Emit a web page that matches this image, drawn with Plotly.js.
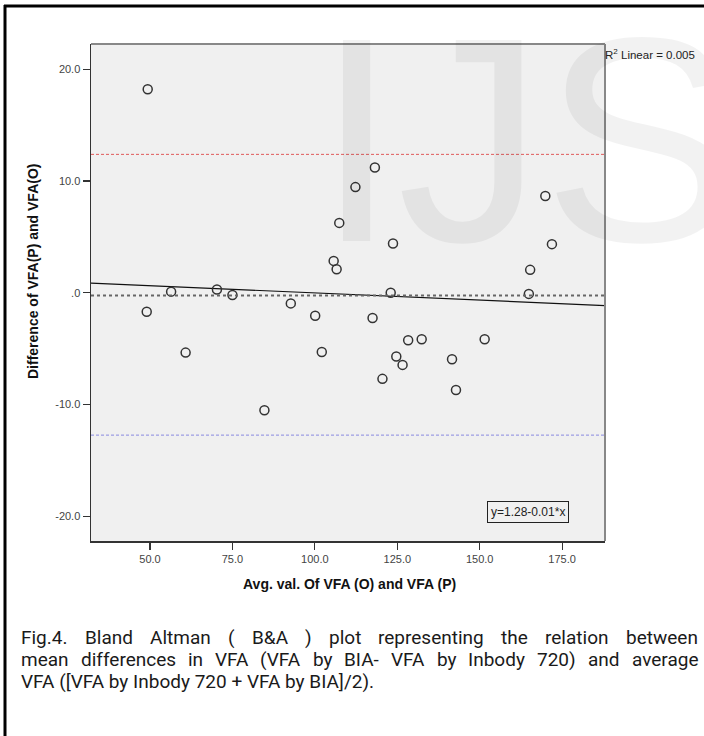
<!DOCTYPE html>
<html>
<head>
<meta charset="utf-8">
<script src="https://cdn.plot.ly/plotly-3.0.1.min.js"></script>
<style>
  html, body { margin:0; padding:0; background:#ffffff; }
  #chart { width:704px; height:736px; }
</style>
</head>
<body>
<div id="chart"></div>
<script>
// ---------------- data ----------------
const avgVFA = [49.3, 49.0, 56.4, 70.3, 75.0, 92.7, 100.1, 118.2, 112.3, 107.4,
                123.7, 105.7, 106.6, 123.0, 117.5, 169.9, 171.9, 165.3, 164.9, 102.1,
                128.3, 132.4, 151.5, 124.7, 126.6, 120.5, 141.6, 142.8, 60.8, 84.7];
const diffVFA = [18.2, -1.7, 0.1, 0.3, -0.2, -0.95, -2.05, 11.2, 9.45, 6.25,
                 4.4, 2.85, 2.1, 0.0, -2.25, 8.65, 4.35, 2.05, -0.1, -5.3,
                 -4.25, -4.15, -4.15, -5.7, -6.45, -7.7, -5.95, -8.7, -5.35, -10.5];
const meanDiff = -0.25;
const upperLoA = 12.38;
const lowerLoA = -12.73;
const fitIntercept = 1.28;
const fitSlope = -0.0129;
const xTickVals = [50, 75, 100, 125, 150, 175];
const xTickText = ['50.0', '75.0', '100.0', '125.0', '150.0', '175.0'];
const yTickVals = [-20, -10, 0, 10, 20];
const yTickText = ['-20.0', '-10.0', '.0', '10.0', '20.0'];
const xTitle = 'Avg. val. Of VFA (O) and VFA (P)';
const yTitle = 'Difference of VFA(P) and VFA(O)';
const r2Label = 'R<sup>2</sup> Linear = 0.005';
const fitLabel = 'y=1.28-0.01*x';
const captionLines = [
  'Fig.4. Bland Altman ( B&A ) plot representing the relation between',
  'mean differences in VFA (VFA by BIA- VFA by Inbody 720) and average',
  'VFA ([VFA by Inbody 720 + VFA by BIA]/2).'
];
const watermark = 'IJS';

// ---------------- layout helpers ----------------
const W = 704, H = 736;
const ML = 91, MR = 99, MT = 44, MB = 195;
const PW = W - ML - MR, PH = H - MT - MB;
const X_RANGE = [32.1, 188];
const Y_RANGE = [-22.2, 22.25];
const px = x => (x - ML) / PW;
const py = y => 1 - (y - MT) / PH;
const FONT = 'Liberation Sans, Arial, sans-serif';
const CAP_FONT = 'Roboto, Liberation Sans, Arial, sans-serif';

function esc(s){ return s.replace(/&/g,'&amp;').replace(/</g,'&lt;').replace(/>/g,'&gt;'); }

// caption: justified lines built from measured word widths
const capSize = 19;
const capLeft = 20, capRight = 697;
const capCenters = [637, 659, 681];
const canvas = document.createElement('canvas');
const ctx = canvas.getContext('2d');
ctx.font = capSize + 'px Roboto, "Liberation Sans", Arial, sans-serif';

const annotations = [];
captionLines.forEach((line, i) => {
  const justify = i < captionLines.length - 1;
  if (!justify) {
    annotations.push({xref:'paper', yref:'paper', x:px(capLeft), y:py(capCenters[i]),
      xanchor:'left', yanchor:'middle', showarrow:false, text:esc(line), borderpad:0,
      font:{family:CAP_FONT, size:capSize, color:'#1a1a1a'}});
    return;
  }
  const words = line.split(' ').filter(w => w.length);
  const widths = words.map(w => ctx.measureText(w).width);
  const total = widths.reduce((a,b)=>a+b,0);
  const gap = (capRight - capLeft - total) / (words.length - 1);
  let cx = capLeft;
  words.forEach((w, k) => {
    annotations.push({xref:'paper', yref:'paper', x:px(cx), y:py(capCenters[i]),
      xanchor:'left', yanchor:'middle', showarrow:false, text:esc(w), borderpad:0,
      font:{family:CAP_FONT, size:capSize, color:'#1a1a1a'}});
    cx += widths[k] + gap;
  });
});

// watermark
annotations.push({xref:'paper', yref:'paper', x:px(314), y:py(140), xanchor:'left', yanchor:'middle',
  showarrow:false, text:watermark, font:{family:FONT, size:292, color:'rgba(0,0,0,0.05)'}});

// axis titles
annotations.push({xref:'paper', yref:'paper', x:px(349), y:py(584), xanchor:'center', yanchor:'middle',
  showarrow:false, text:xTitle, font:{family:FONT, size:14, color:'#111', weight:'bold'}});
annotations.push({xref:'paper', yref:'paper', x:px(33), y:py(272), xanchor:'center', yanchor:'middle',
  textangle:-90, showarrow:false, text:yTitle, font:{family:FONT, size:14, color:'#111', weight:'bold'}});

// R2 label and fit label
annotations.push({xref:'paper', yref:'paper', x:px(603), y:py(54), xanchor:'left', yanchor:'middle',
  showarrow:false, text:r2Label, font:{family:FONT, size:11.5, color:'#222'}});
annotations.push({xref:'paper', yref:'paper', x:px(528), y:py(512), xanchor:'center', yanchor:'middle',
  showarrow:false, text:fitLabel, bordercolor:'#222', borderwidth:1, borderpad:3,
  font:{family:FONT, size:12, color:'#222'}});

const traces = [
  { x: X_RANGE, y: X_RANGE.map(v => fitIntercept + fitSlope * v), mode:'lines',
    line:{color:'#111', width:1.2}, hoverinfo:'skip', showlegend:false },
  { x: avgVFA, y: diffVFA, mode:'markers', showlegend:false,
    marker:{symbol:'circle-open', size:9, color:'#333', line:{width:1.5, color:'#333'}} }
];

const shapes = [
  {type:'line', xref:'paper', yref:'y', x0:0, x1:1, y0:upperLoA, y1:upperLoA,
    line:{color:'#e05a5a', width:1, dash:'3px,2px'}},
  {type:'line', xref:'paper', yref:'y', x0:0, x1:1, y0:lowerLoA, y1:lowerLoA,
    line:{color:'#8a8ae0', width:1, dash:'3px,2px'}},
  {type:'line', xref:'paper', yref:'y', x0:0, x1:1, y0:meanDiff, y1:meanDiff,
    line:{color:'#666', width:2, dash:'3px,3px'}},
  {type:'line', xref:'paper', yref:'paper', x0:0, x1:1, y0:1, y1:1, line:{color:'#888', width:2}},
  {type:'line', xref:'paper', yref:'paper', x0:1, x1:1, y0:0, y1:1, line:{color:'#888', width:2}},
  {type:'line', xref:'paper', yref:'paper', x0:px(4), x1:px(706), y0:py(6), y1:py(6), line:{color:'#000', width:3}},
  {type:'line', xref:'paper', yref:'paper', x0:px(5), x1:px(5), y0:py(5), y1:py(740), line:{color:'#000', width:3}}
];

const layout = {
  width: W, height: H,
  margin: {l:ML, r:MR, t:MT, b:MB, pad:0, autoexpand:false},
  paper_bgcolor: '#ffffff',
  plot_bgcolor: '#f0f0f0',
  showlegend: false,
  xaxis: {
    range: X_RANGE, tickmode:'array', tickvals:xTickVals, ticktext:xTickText,
    showgrid:false, zeroline:false, showline:true, linecolor:'#333', linewidth:1.5,
    ticks:'outside', ticklen:7, tickwidth:1.2, tickcolor:'#333',
    tickfont:{family:FONT, size:11, color:'#444'}, fixedrange:true
  },
  yaxis: {
    range: Y_RANGE, tickmode:'array', tickvals:yTickVals, ticktext:yTickText,
    showgrid:false, zeroline:false, showline:true, linecolor:'#333', linewidth:1.5,
    ticks:'outside', ticklen:7, tickwidth:1.2, tickcolor:'#333',
    tickfont:{family:FONT, size:11, color:'#444'}, fixedrange:true
  },
  shapes: shapes,
  annotations: annotations
};

Plotly.newPlot('chart', traces, layout, {displayModeBar:false, staticPlot:true});
</script>
</body>
</html>
